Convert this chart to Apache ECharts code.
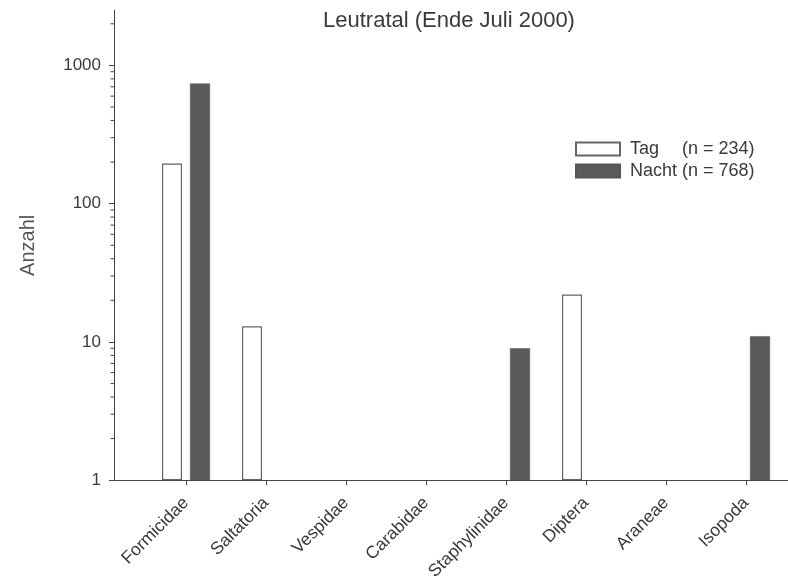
<!DOCTYPE html>
<html>
<head>
<meta charset="utf-8">
<script src="https://cdn.jsdelivr.net/npm/echarts@6/dist/echarts.min.js"></script>
<style>html,body{margin:0;padding:0;background:#fff;}#c{width:788px;height:583px;}</style>
</head>
<body>
<div id="c"></div>
<script>
const categories = ['Formicidae','Saltatoria','Vespidae','Carabidae','Staphylinidae','Diptera','Araneae','Isopoda'];
const tagValues   = [195, 13, null, null, null, 22, null, null];
const nachtValues = [740, null, null, null, 9, null, null, 11];
const yMajorTicks = [1, 10, 100, 1000];
const yMinorTicks = [2,3,4,5,6,7,8,9,20,30,40,50,60,70,80,90,200,300,400,500,600,700,800,900,2000];
const titleText = 'Leutratal (Ende Juli 2000)';
const yName = 'Anzahl';
const legendTag = ['Tag', '(n = 234)'];
const legendNacht = ['Nacht', '(n = 768)'];

const catPos = categories.map((c, i) => i + 1);
const toPairs = arr => arr.map((v, i) => v == null ? null : [i + 1, v]).filter(d => d);

const textColor = '#3a3a3a';
const axisColor = '#444';
const font = 'Liberation Sans, Arial, Helvetica, sans-serif';

const chart = echarts.init(document.getElementById('c'), null, {renderer: 'canvas'});
chart.setOption({
  animation: false,
  backgroundColor: '#fff',
  title: {
    text: titleText, left: 318, top: 5,
    textStyle: {fontFamily: font, fontSize: 22, fontWeight: 'normal', color: textColor}
  },
  legend: {
    orient: 'vertical', left: 575, top: 139, padding: 0,
    icon: 'rect',
    itemWidth: 44, itemHeight: 13, itemGap: 2,
    data: ['Tag', 'Nacht'],
    formatter: name => {
      const t = name === 'Tag' ? legendTag : legendNacht;
      return '{a|' + t[0] + '}{b|' + t[1] + '}';
    },
    textStyle: {
      fontFamily: font, fontSize: 18, color: textColor, lineHeight: 20,
      rich: {
        a: {fontFamily: font, fontSize: 18, color: textColor, width: 52, padding: [0, 0, 0, 5], lineHeight: 20},
        b: {fontFamily: font, fontSize: 18, color: textColor, lineHeight: 20}
      }
    }
  },
  grid: {left: 114, right: 0, top: 10.4, bottom: 100.3, containLabel: false},
  xAxis: {
    type: 'value', min: 0.1, max: 8.525,
    axisLine: {show: true, lineStyle: {color: axisColor, width: 1}},
    axisTick: {show: true, length: 5, customValues: catPos, lineStyle: {color: axisColor}},
    axisLabel: {
      show: true, customValues: catPos, rotate: 45, margin: 20,
      formatter: v => categories[Math.round(v) - 1] || '',
      fontFamily: font, fontSize: 17.5, color: textColor
    },
    splitLine: {show: false}
  },
  yAxis: {
    type: 'log', logBase: 10, min: 1, max: 2500,
    name: yName, nameLocation: 'middle', nameGap: 76, nameRotate: 90,
    nameTextStyle: {fontFamily: font, fontSize: 20, color: '#555'},
    axisLine: {show: true, lineStyle: {color: axisColor, width: 1}},
    axisTick: {show: true, length: 5, customValues: yMajorTicks, lineStyle: {color: axisColor}},
    axisLabel: {
      show: true, customValues: yMajorTicks, margin: 13,
      formatter: v => String(Math.round(v)),
      fontFamily: font, fontSize: 17, color: textColor
    },
    splitLine: {show: false}
  },
  series: [
    {
      name: 'Tag', type: 'bar', barWidth: 20, barGap: '40%',
      data: toPairs(tagValues),
      itemStyle: {color: '#ffffff', borderColor: '#666', borderWidth: 1.2}
    },
    {
      name: 'Nacht', type: 'bar', barWidth: 20, barGap: '40%',
      data: toPairs(nachtValues),
      itemStyle: {color: '#5a5a5a', borderColor: '#555', borderWidth: 0.5}
    },
    {
      name: 'minorTicks', type: 'custom', silent: true, z: 5,
      encode: {x: 0, y: 1},
      data: yMinorTicks.map(v => [1, v]),
      renderItem: (params, api) => {
        const y = api.coord([1, api.value(1)])[1];
        const x0 = params.coordSys.x;
        return {type: 'line', shape: {x1: x0 - 3.5, y1: y, x2: x0, y2: y}, style: {stroke: axisColor, lineWidth: 1}};
      }
    }
  ]
});
</script>
</body>
</html>
